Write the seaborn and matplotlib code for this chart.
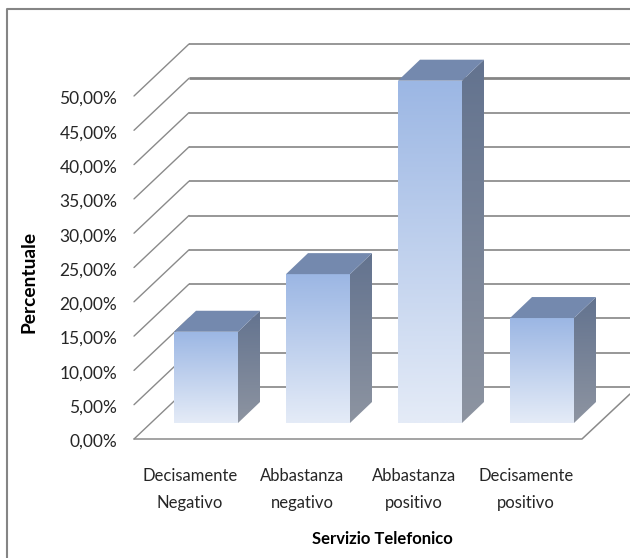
import numpy as np
import pandas as pd
import matplotlib
matplotlib.use('Agg')
import matplotlib.pyplot as plt
from matplotlib.lines import Line2D
from matplotlib.patches import Polygon
from matplotlib.transforms import ScaledTranslation
import seaborn as sns

categorie = ['Decisamente\nNegativo', 'Abbastanza\nnegativo',
             'Abbastanza\npositivo', 'Decisamente\npositivo']
valori = [13.3, 21.7, 49.9, 15.3]
tick_valori = [0, 5, 10, 15, 20, 25, 30, 35, 40, 45, 50]
tick_etichette = ['0,00%', '5,00%', '10,00%', '15,00%', '20,00%', '25,00%',
                  '30,00%', '35,00%', '40,00%', '45,00%', '50,00%']

W, H = 630, 558
sns.set_theme(style='white')
plt.rcParams['font.family'] = ['Lato', 'DejaVu Sans']

fig = plt.figure(figsize=(W / 100, H / 100), dpi=100)
# the axes sit on the front plane of the fake 3D box
ax = fig.add_axes([134 / W, (H - 439) / H, 448 / W, 343 / H])

df = pd.DataFrame({'categoria': categorie, 'valore': valori})
sns.barplot(data=df, x='categoria', y='valore', order=categorie, width=64 / 112,
            color='#9db8e5', saturation=1, linewidth=0, zorder=3, clip_on=False, ax=ax)

XPX = 4 / 448   # data units per pixel
YPX = 50 / 343


def shift(x, y, dx=0, dy=0):
    """Move a data point by some pixels (dy up)"""
    return x + dx * XPX, y + dy * YPX


def gradient_face(pts, top, bottom, zorder):
    """Fill a polygon with a vertical gradient"""
    pts = np.array(pts)
    cols = np.array([matplotlib.colors.to_rgb(top), matplotlib.colors.to_rgb(bottom)])
    t = np.linspace(0, 1, 64)[:, None]
    img = (cols[0] * (1 - t) + cols[1] * t)[:, None, :]
    im = ax.imshow(img, extent=(pts[:, 0].min(), pts[:, 0].max(), pts[:, 1].min(), pts[:, 1].max()),
                   aspect='auto', origin='upper', zorder=zorder, interpolation='bilinear')
    clip = Polygon(pts, transform=ax.transData, fc='none', ec='none', clip_on=False)
    ax.add_patch(clip)
    im.set_clip_box(fig.bbox)
    im.set_clip_path(clip)


# grid lines on the side wall and back wall
for v in tick_valori:
    x0, y0 = -0.5, v
    x1, y1 = shift(x0, y0, 55, 52)
    x2 = shift(x0, y0, 496)[0]
    ax.plot([x0, x1], [y0, y1], color='#8a8a8a', lw=1.0, clip_on=False, zorder=1)
    ax.plot([x1, x2], [y1, y1], color='#858585', lw=2.0 if v == 45 else 1.2,
            clip_on=False, zorder=1, solid_capstyle='butt')

# floor outline
xf = 3.5
xe, ye = shift(xf, 0, 48, 45)
ax.plot([-0.5, xf, xe], [0, 0, ye], color='#8a8a8a', lw=1.1, clip_on=False, zorder=1)

# move the bars into the box and add the faces
for i, bar in enumerate(ax.patches[:len(valori)]):
    h = bar.get_height()
    x, y = shift(bar.get_x(), 0, 16, 16)
    w = bar.get_width()
    bar.set_x(x)
    bar.set_y(y)
    top = y + h
    r = x + w
    gradient_face([(x, y), (r, y), (r, top), (x, top)], '#9cb7e4', '#e4ebf7', 4)
    dx, dy = shift(0, 0, 22, 21)
    gradient_face([(r, y), (r + dx, y + dy), (r + dx, top + dy), (r, top)], '#63738f', '#8d94a1', 4)
    ax.add_patch(Polygon([(x, top), (r, top), (r + dx, top + dy), (x + dx, top + dy)],
                         fc='#7489ae', ec='none', zorder=4, clip_on=False))

ax.set_xlim(-0.5, 3.5)
ax.set_ylim(0, 50)
sns.despine(ax=ax, left=True, bottom=True)
ax.set_yticks(tick_valori)
ax.set_yticklabels(tick_etichette, fontsize=12.5, color='#262626')
ax.tick_params(axis='y', length=0, pad=12)
ax.tick_params(axis='x', length=0, pad=21, labelsize=12, labelcolor='#262626')
for lab in ax.get_xticklabels():
    lab.set_linespacing(1.8)
down = ScaledTranslation(0, -1.5 / 100, fig.dpi_scale_trans)
for lab in ax.get_yticklabels():
    lab.set_transform(lab.get_transform() + down)

ax.set_xlabel('Servizio Telefonico', fontsize=12, fontweight='bold', color='black')
ax.set_ylabel('Percentuale', fontsize=13.8, fontweight='bold', color='black')
ax.xaxis.set_label_coords((382 - 134) / 448, (439 - 539) / 343)
ax.yaxis.set_label_coords((29 - 134) / 448, (439 - 282) / 343)
ax.xaxis.label.set_verticalalignment('center')
ax.yaxis.label.set_verticalalignment('center')

# chart area border, only top and left are in the crop
fig.add_artist(Line2D([6.5 / W, 6.5 / W, 1], [0, (H - 9) / H, (H - 9) / H], color='#858585', lw=1.5))

fig.savefig('out.png', dpi=100)
